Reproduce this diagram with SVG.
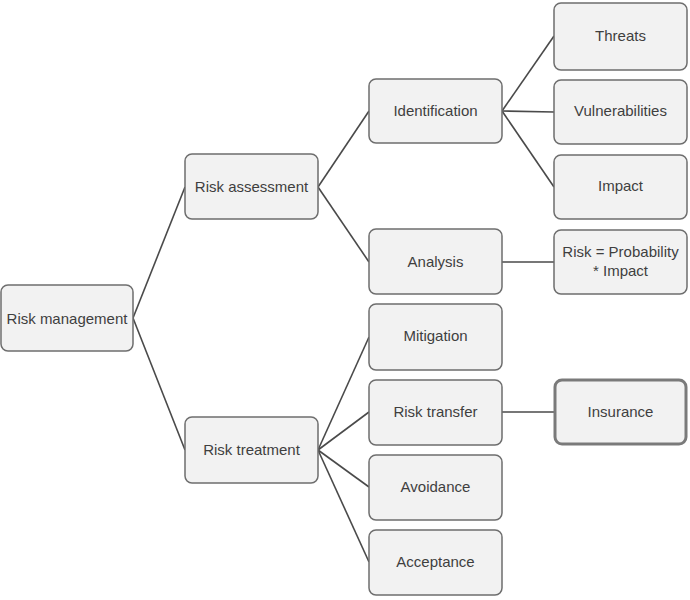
<svg xmlns="http://www.w3.org/2000/svg" width="690" height="600" viewBox="0 0 690 600">
<style>
.box{fill:#f2f2f2;stroke:#6e6e6e;stroke-width:1.5}
.thick{stroke:#7a7a7a;stroke-width:3}
.lbl{font-family:"Liberation Sans",Arial,sans-serif;font-size:15px;fill:#3f3f3f;text-anchor:middle;dominant-baseline:central}
.conn line{stroke:#4a4a4a;stroke-width:1.6}
</style>
<rect width="690" height="600" fill="#ffffff"/>
<g class="conn" id="connectors">
<line x1="133" y1="318" x2="185" y2="187"/>
<line x1="133" y1="318" x2="185" y2="450"/>
<line x1="318" y1="187" x2="369" y2="111"/>
<line x1="318" y1="187" x2="369" y2="262"/>
<line x1="502" y1="111" x2="554" y2="36"/>
<line x1="502" y1="111" x2="554" y2="112"/>
<line x1="502" y1="111" x2="554" y2="187"/>
<line x1="502" y1="262" x2="554" y2="262"/>
<line x1="318" y1="450" x2="369" y2="337"/>
<line x1="318" y1="450" x2="369" y2="412"/>
<line x1="318" y1="450" x2="369" y2="487"/>
<line x1="318" y1="450" x2="369" y2="562"/>
<line x1="502" y1="412" x2="554" y2="412"/>
</g>
<g id="risk-management"><rect class="box" x="1" y="285" width="132" height="66" rx="7"/><text class="lbl" x="67" y="318">Risk management</text></g>
<g id="risk-assessment"><rect class="box" x="185" y="154" width="133" height="65" rx="7"/><text class="lbl" x="251.5" y="186">Risk assessment</text></g>
<g id="risk-treatment"><rect class="box" x="185" y="417" width="133" height="66" rx="7"/><text class="lbl" x="251.5" y="449">Risk treatment</text></g>
<g id="identification"><rect class="box" x="369" y="79" width="133" height="64" rx="7"/><text class="lbl" x="435.5" y="110">Identification</text></g>
<g id="analysis"><rect class="box" x="369" y="229" width="133" height="65" rx="7"/><text class="lbl" x="435.5" y="261">Analysis</text></g>
<g id="mitigation"><rect class="box" x="369" y="304" width="133" height="66" rx="7"/><text class="lbl" x="435.5" y="335">Mitigation</text></g>
<g id="risk-transfer"><rect class="box" x="369" y="380" width="133" height="65" rx="7"/><text class="lbl" x="435.5" y="411">Risk transfer</text></g>
<g id="avoidance"><rect class="box" x="369" y="455" width="133" height="65" rx="7"/><text class="lbl" x="435.5" y="486">Avoidance</text></g>
<g id="acceptance"><rect class="box" x="369" y="530" width="133" height="65" rx="7"/><text class="lbl" x="435.5" y="561">Acceptance</text></g>
<g id="threats"><rect class="box" x="554" y="3" width="133" height="67" rx="7"/><text class="lbl" x="620.5" y="35">Threats</text></g>
<g id="vulnerabilities"><rect class="box" x="554" y="80" width="133" height="64" rx="7"/><text class="lbl" x="620.5" y="110">Vulnerabilities</text></g>
<g id="impact"><rect class="box" x="554" y="155" width="133" height="64" rx="7"/><text class="lbl" x="620.5" y="185">Impact</text></g>
<g id="risk-formula"><rect class="box" x="554" y="230" width="133" height="64" rx="7"/><text class="lbl" x="620.5" y="251">Risk = Probability</text><text class="lbl" x="620.5" y="270">* Impact</text></g>
<g id="insurance"><rect class="box thick" x="555" y="380" width="131" height="64" rx="7"/><text class="lbl" x="620.5" y="411">Insurance</text></g>
</svg>
